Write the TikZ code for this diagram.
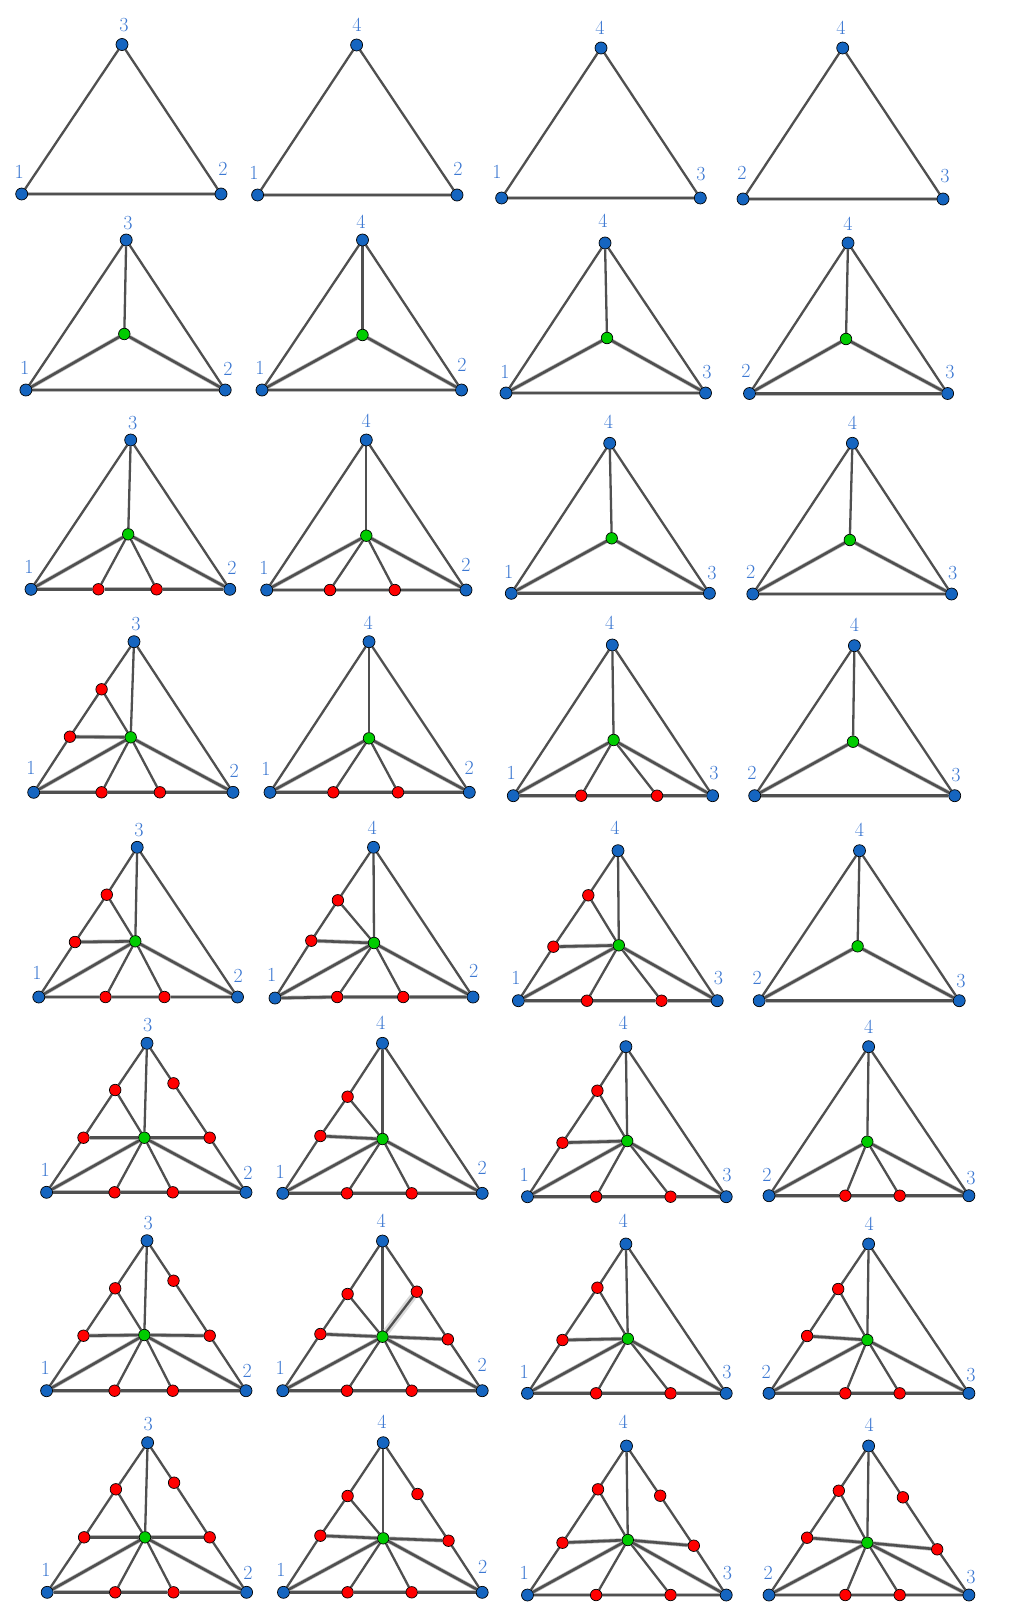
\documentclass[tikz,border=0pt]{standalone}
\usetikzlibrary{backgrounds}
\definecolor{vblue}{RGB}{21,101,192}
\definecolor{vred}{RGB}{255,0,0}
\definecolor{vgreen}{RGB}{0,204,0}
\definecolor{lblue}{RGB}{60,120,210}
\definecolor{egray}{RGB}{80,80,80}
\tikzset{
  vb/.style={circle, draw=black, line width=0.7pt, fill=vblue, minimum size=12pt, inner sep=0pt},
  vr/.style={circle, draw=black, line width=0.7pt, fill=vred, minimum size=11.5pt, inner sep=0pt},
  vg/.style={circle, draw=black, line width=0.7pt, fill=vgreen, minimum size=11.5pt, inner sep=0pt},
  lbl/.style={text=lblue, font=\fontsize{20}{20}\selectfont, inner sep=0pt},
  e/.style={draw=egray, line width=2.3pt},
  ee/.style={draw=egray, line width=2.6pt, preaction={draw=black!28, line width=4pt}},
  glow/.style={draw=egray, line width=2.3pt, preaction={draw=black!15, line width=7pt}}
}
\newcommand\mkB[3]{\node[vb] (#1) at (#2,#3) {};}
\newcommand\mkR[3]{\node[vr] (#1) at (#2,#3) {};}
\newcommand\mkG[3]{\node[vg] (#1) at (#2,#3) {};}
\newcommand\mkL[4]{\node[lbl] (#1) at (#2,#3) {#4};}
% edge sets, drawn between named nodes
\newcommand\edgesOne[1]{\draw[e] (#1T) -- (#1A); \draw[e] (#1T) -- (#1B); \draw[ee] (#1A) -- (#1B);}
\newcommand\edgesTwo[1]{\draw[e] (#1T) -- (#1A); \draw[e] (#1T) -- (#1B); \draw[e] (#1T) -- (#1G);
  \draw[ee] (#1A) -- (#1B); \draw[ee] (#1G) -- (#1A); \draw[ee] (#1G) -- (#1B);}
\newcommand\edgesThree[1]{\draw[e] (#1T) -- (#1A); \draw[e] (#1T) -- (#1B); \draw[e] (#1T) -- (#1G);
  \draw[e] (#1G) -- (#1b1); \draw[e] (#1G) -- (#1b2);
  \draw[ee] (#1A) -- (#1b1) -- (#1b2) -- (#1B); \draw[ee] (#1G) -- (#1A); \draw[ee] (#1G) -- (#1B);}
\newcommand\edgesFour[1]{\draw[e] (#1A) -- (#1l1) -- (#1l2) -- (#1T); \draw[e] (#1T) -- (#1B); \draw[e] (#1T) -- (#1G);
  \draw[e] (#1G) -- (#1l2); \draw[ee] (#1G) -- (#1l1);
  \draw[e] (#1G) -- (#1b1); \draw[e] (#1G) -- (#1b2);
  \draw[ee] (#1A) -- (#1b1) -- (#1b2) -- (#1B); \draw[ee] (#1G) -- (#1A); \draw[ee] (#1G) -- (#1B);}
\newcommand\edgesFive[1]{\draw[e] (#1A) -- (#1l1) -- (#1l2) -- (#1T); \draw[e] (#1B) -- (#1r1) -- (#1r2) -- (#1T);
  \draw[e] (#1T) -- (#1G);
  \draw[e] (#1G) -- (#1l2); \draw[ee] (#1G) -- (#1l1);
  \draw[ee] (#1G) -- (#1r1);
  \draw[e] (#1G) -- (#1b1); \draw[e] (#1G) -- (#1b2);
  \draw[ee] (#1A) -- (#1b1) -- (#1b2) -- (#1B); \draw[ee] (#1G) -- (#1A); \draw[ee] (#1G) -- (#1B);}
\begin{document}
\begin{tikzpicture}[x=1pt,y=-1pt]
\useasboundingbox (0,0) rectangle (1015,1611);
% ---------- Row 1 ----------
\mkB{p11T}{122}{44.5}\mkB{p11A}{21.7}{194}\mkB{p11B}{221}{194}
\mkL{p11t}{124}{25}{3}\mkL{p11a}{19.3}{171.5}{1}\mkL{p11b}{223}{169}{2}
\mkB{p12T}{356.6}{45}\mkB{p12A}{257.6}{195}\mkB{p12B}{457}{195}
\mkL{p12t}{357}{25}{4}\mkL{p12a}{254}{173}{1}\mkL{p12b}{458}{169}{2}
\mkB{p13T}{601}{48}\mkB{p13A}{501.6}{198}\mkB{p13B}{700.3}{198}
\mkL{p13t}{600}{28}{4}\mkL{p13a}{497}{172}{1}\mkL{p13b}{701}{174}{3}
\mkB{p14T}{842.7}{48}\mkB{p14A}{743}{199}\mkB{p14B}{943}{199}
\mkL{p14t}{841}{28}{4}\mkL{p14a}{742}{173}{2}\mkL{p14b}{945}{176}{3}
% ---------- Row 2 ----------
\mkB{p21T}{126.2}{240}\mkG{p21G}{124.3}{334}\mkB{p21A}{25.9}{390}\mkB{p21B}{225.2}{390}
\mkL{p21t}{128}{223}{3}\mkL{p21a}{24.6}{368}{1}\mkL{p21b}{228}{369}{2}
\mkB{p22T}{362.5}{240}\mkG{p22G}{362.5}{335}\mkB{p22A}{262}{390}\mkB{p22B}{461.5}{390}
\mkL{p22t}{361}{222}{4}\mkL{p22a}{260}{368}{1}\mkL{p22b}{462}{365}{2}
\mkB{p23T}{605}{243}\mkG{p23G}{607}{338}\mkB{p23A}{506}{393}\mkB{p23B}{705.5}{393}
\mkL{p23t}{603}{221}{4}\mkL{p23a}{505}{372}{1}\mkL{p23b}{707}{372}{3}
\mkB{p24T}{848}{243}\mkG{p24G}{846}{339}\mkB{p24A}{749.5}{393.5}\mkB{p24B}{947.6}{393.5}
\mkL{p24t}{848}{224}{4}\mkL{p24a}{746}{371}{2}\mkL{p24b}{950}{372}{3}
% ---------- Row 3 ----------
\mkB{p31T}{130.7}{440}\mkG{p31G}{128.2}{534.3}\mkB{p31A}{31}{589.3}\mkB{p31B}{229.8}{589.3}
\mkR{p31b1}{98.4}{589.3}\mkR{p31b2}{156.6}{589.3}
\mkL{p31t}{132.7}{423}{3}\mkL{p31a}{29}{567}{1}\mkL{p31b}{232}{568}{2}
\mkB{p32T}{366.3}{440}\mkG{p32G}{366.3}{535.7}\mkB{p32A}{266.7}{590}\mkB{p32B}{466}{590}
\mkR{p32b1}{330}{590}\mkR{p32b2}{394.8}{590}
\mkL{p32t}{366.3}{421}{4}\mkL{p32a}{264}{568}{1}\mkL{p32b}{466}{565}{2}
\mkB{p33T}{609.7}{443.3}\mkG{p33G}{611.7}{538.3}\mkB{p33A}{511.3}{593.3}\mkB{p33B}{709.4}{593.3}
\mkL{p33t}{608.4}{422}{4}\mkL{p33a}{508.7}{572}{1}\mkL{p33b}{712}{573}{3}
\mkB{p34T}{852.4}{443.3}\mkG{p34G}{849.8}{540}\mkB{p34A}{752.8}{594}\mkB{p34B}{951.5}{594}
\mkL{p34t}{852.4}{423}{4}\mkL{p34a}{750.8}{572}{2}\mkL{p34b}{952.7}{573}{3}
% ---------- Row 4 ----------
\mkB{p41T}{134}{641.7}\mkG{p41G}{130.7}{737.3}\mkB{p41A}{33.7}{792.3}\mkB{p41B}{233}{792.3}
\mkR{p41b1}{101.6}{792.3}\mkR{p41b2}{159.9}{792.3}\mkR{p41l1}{69.9}{736.7}\mkR{p41l2}{101.6}{689.3}
\mkL{p41t}{136}{624}{3}\mkL{p41a}{31}{768}{1}\mkL{p41b}{234.3}{771}{2}
\mkB{p42T}{369}{641.7}\mkG{p42G}{369}{738.3}\mkB{p42A}{270}{792.3}\mkB{p42B}{469.3}{792.3}
\mkR{p42b1}{333.3}{792.3}\mkR{p42b2}{398}{792.3}
\mkL{p42t}{368.3}{623}{4}\mkL{p42a}{266}{769}{1}\mkL{p42b}{469.3}{768}{2}
\mkB{p43T}{612.3}{645}\mkG{p43G}{613.6}{740}\mkB{p43A}{513.3}{795.7}\mkB{p43B}{712.6}{795.7}
\mkR{p43b1}{581.2}{795.7}\mkR{p43b2}{657}{795.7}
\mkL{p43t}{609.7}{623}{4}\mkL{p43a}{511.3}{773}{1}\mkL{p43b}{714}{773}{3}
\mkB{p44T}{854.4}{645.7}\mkG{p44G}{853}{741.7}\mkB{p44A}{754.7}{795.7}\mkB{p44B}{954.7}{795.7}
\mkL{p44t}{854.4}{625}{4}\mkL{p44a}{752}{773}{2}\mkL{p44b}{956}{775}{3}
% ---------- Row 5 ----------
\mkB{p51T}{137.2}{847.3}\mkG{p51G}{135.3}{941.3}\mkB{p51A}{38.8}{997}\mkB{p51B}{237.5}{997}
\mkR{p51b1}{105.5}{997}\mkR{p51b2}{164.4}{997}\mkR{p51l1}{75}{942}\mkR{p51l2}{106.8}{894.7}
\mkL{p51t}{139}{830}{3}\mkL{p51a}{37}{973}{1}\mkL{p51b}{238.2}{976}{2}
\mkB{p52T}{373.5}{847.3}\mkG{p52G}{374}{943}\mkB{p52A}{275}{998}\mkB{p52B}{473}{997}
\mkR{p52b1}{337.2}{997}\mkR{p52b2}{403.2}{997}\mkR{p52l1}{311.3}{940.7}\mkR{p52l2}{337.9}{900.3}
\mkL{p52t}{372.2}{828}{4}\mkL{p52a}{271.8}{975}{1}\mkL{p52b}{473.8}{971}{2}
\mkB{p53T}{618}{850.7}\mkG{p53G}{618.8}{945.3}\mkB{p53A}{518.4}{1000.7}\mkB{p53B}{717.2}{1000.7}
\mkR{p53b1}{587}{1000.7}\mkR{p53b2}{661.5}{1000.7}\mkR{p53l1}{553.4}{946.7}\mkR{p53l2}{588.3}{895.3}
\mkL{p53t}{614.9}{828}{4}\mkL{p53a}{515.9}{978}{1}\mkL{p53b}{718.4}{978}{3}
\mkB{p54T}{859.5}{850.7}\mkG{p54G}{857.6}{946.3}\mkB{p54A}{759.2}{1000.7}\mkB{p54B}{959.2}{1000.7}
\mkL{p54t}{859.5}{830}{4}\mkL{p54a}{757.3}{978}{2}\mkL{p54b}{961}{981}{3}
% ---------- Row 6 ----------
\mkB{p61T}{147}{1043.3}\mkG{p61G}{144.3}{1137.7}\mkB{p61A}{46.6}{1192.3}\mkB{p61B}{246}{1192.3}
\mkR{p61b1}{114.6}{1192.3}\mkR{p61b2}{172.8}{1192.3}\mkR{p61l1}{83.5}{1137.7}\mkR{p61l2}{115.2}{1090}
\mkR{p61r1}{209.7}{1137.7}\mkR{p61r2}{173.5}{1083.3}
\mkL{p61t}{147.6}{1025}{3}\mkL{p61a}{45.3}{1170}{1}\mkL{p61b}{247.9}{1173}{2}
\mkB{p62T}{382.5}{1043.3}\mkG{p62G}{382.5}{1139}\mkB{p62A}{282.8}{1193.3}\mkB{p62B}{482.2}{1193.3}
\mkR{p62b1}{347}{1193.3}\mkR{p62b2}{411.7}{1193.3}\mkR{p62l1}{320.4}{1136}\mkR{p62l2}{347.6}{1096.7}
\mkL{p62t}{380.6}{1023}{4}\mkL{p62a}{280.3}{1172}{1}\mkL{p62b}{482.2}{1168}{2}
\mkB{p63T}{625.9}{1046.7}\mkG{p63G}{627.2}{1141}\mkB{p63A}{527.5}{1196.7}\mkB{p63B}{726.2}{1196.7}
\mkR{p63b1}{596.1}{1196.7}\mkR{p63b2}{670.6}{1196.7}\mkR{p63l1}{562.5}{1142.7}\mkR{p63l2}{597.4}{1090.7}
\mkL{p63t}{623.3}{1023}{4}\mkL{p63a}{524.3}{1175}{1}\mkL{p63b}{726.9}{1175}{3}
\mkB{p64T}{868.6}{1046.7}\mkG{p64G}{867.3}{1141.7}\mkB{p64A}{769}{1195.7}\mkB{p64B}{968.9}{1195.7}
\mkR{p64b1}{845.3}{1195.7}\mkR{p64b2}{899.7}{1195.7}
\mkL{p64t}{868.6}{1027}{4}\mkL{p64a}{767}{1175}{2}\mkL{p64b}{970.9}{1178}{3}
% ---------- Row 7 ----------
\mkB{p71T}{147}{1240.7}\mkG{p71G}{144.3}{1335}\mkB{p71A}{46.6}{1390.7}\mkB{p71B}{246}{1390.7}
\mkR{p71b1}{114.6}{1390.7}\mkR{p71b2}{172.8}{1390.7}\mkR{p71l1}{83.5}{1335.7}\mkR{p71l2}{115.2}{1288.3}
\mkR{p71r1}{209.7}{1335.7}\mkR{p71r2}{173.5}{1280.7}
\mkL{p71t}{148.2}{1223}{3}\mkL{p71a}{45.3}{1368}{1}\mkL{p71b}{247.2}{1371}{2}
\mkB{p72T}{382.5}{1241}\mkG{p72G}{382.5}{1336.7}\mkB{p72A}{282.8}{1390.7}\mkB{p72B}{482.2}{1390.7}
\mkR{p72b1}{347}{1390.7}\mkR{p72b2}{411.7}{1390.7}\mkR{p72l1}{320.4}{1334}\mkR{p72l2}{347.6}{1294}
\mkR{p72r1}{447.9}{1339.3}\mkR{p72r2}{416.8}{1291.7}
\mkL{p72t}{381.2}{1221}{4}\mkL{p72a}{280.3}{1368}{1}\mkL{p72b}{482.2}{1365}{2}
\mkB{p73T}{625.9}{1244}\mkG{p73G}{627.8}{1338.7}\mkB{p73A}{527.5}{1393.3}\mkB{p73B}{726.2}{1393.3}
\mkR{p73b1}{596.1}{1393.3}\mkR{p73b2}{670.6}{1393.3}\mkR{p73l1}{562.5}{1340}\mkR{p73l2}{597.4}{1287.7}
\mkL{p73t}{623.3}{1221}{4}\mkL{p73a}{524.3}{1372}{1}\mkL{p73b}{726.9}{1372}{3}
\mkB{p74T}{868.6}{1244}\mkG{p74G}{867.3}{1340}\mkB{p74A}{769}{1393.3}\mkB{p74B}{968.9}{1393.3}
\mkR{p74b1}{845.3}{1393.3}\mkR{p74b2}{899.7}{1393.3}\mkR{p74l1}{807.1}{1336}\mkR{p74l2}{838.2}{1289}
\mkL{p74t}{869.3}{1224}{4}\mkL{p74a}{766.3}{1372}{2}\mkL{p74b}{970.9}{1375}{3}
% ---------- Row 8 ----------
\mkB{p81T}{147.6}{1442.7}\mkG{p81G}{145}{1537.3}\mkB{p81A}{47.2}{1592.3}\mkB{p81B}{246.6}{1592.3}
\mkR{p81b1}{115.2}{1592.3}\mkR{p81b2}{173.5}{1592.3}\mkR{p81l1}{84.1}{1537.3}\mkR{p81l2}{115.9}{1489.3}
\mkR{p81r1}{209.7}{1537.3}\mkR{p81r2}{174.1}{1482.7}
\mkL{p81t}{148.2}{1424}{3}\mkL{p81a}{46}{1570}{1}\mkL{p81b}{247.9}{1573}{2}
\mkB{p82T}{383.2}{1442.7}\mkG{p82G}{383.2}{1538.3}\mkB{p82A}{283.5}{1592.3}\mkB{p82B}{482.2}{1592.3}
\mkR{p82b1}{347.6}{1592.3}\mkR{p82b2}{411.7}{1592.3}\mkR{p82l1}{320.4}{1535.7}\mkR{p82l2}{347.6}{1496}
\mkR{p82r1}{448.5}{1540.7}\mkR{p82r2}{417.5}{1494}
\mkL{p82t}{381.9}{1422}{4}\mkL{p82a}{280.9}{1570}{1}\mkL{p82b}{482.8}{1567}{2}
\mkB{p83T}{626.5}{1446}\mkG{p83G}{627.8}{1540}\mkB{p83A}{527.5}{1595}\mkB{p83B}{726.2}{1595}
\mkR{p83b1}{596.1}{1595}\mkR{p83b2}{670.6}{1595}\mkR{p83l1}{562.5}{1542.7}\mkR{p83l2}{598}{1489.3}
\mkR{p83r1}{693.8}{1545.7}\mkR{p83r2}{660.2}{1495.7}
\mkL{p83t}{623.3}{1422}{4}\mkL{p83a}{524.3}{1573}{1}\mkL{p83b}{727.5}{1573}{3}
\mkB{p84T}{868.6}{1446}\mkG{p84G}{867.3}{1542.7}\mkB{p84A}{769}{1595}\mkB{p84B}{968.9}{1595}
\mkR{p84b1}{845.3}{1595}\mkR{p84b2}{899.7}{1595}\mkR{p84l1}{807.1}{1537.7}\mkR{p84l2}{838.8}{1490.7}
\mkR{p84r1}{937.2}{1549.3}\mkR{p84r2}{902.9}{1497.3}
\mkL{p84t}{869.3}{1425}{4}\mkL{p84a}{768.3}{1573}{2}\mkL{p84b}{970.9}{1577}{3}
% ---------- Edges ----------
\begin{scope}[on background layer]
\fill[white] (0,0) rectangle (1015,1611);
\edgesOne{p11}\edgesOne{p12}\edgesOne{p13}\edgesOne{p14}
\edgesTwo{p21}\edgesTwo{p22}\edgesTwo{p23}\edgesTwo{p24}
\edgesThree{p31}\edgesThree{p32}\edgesTwo{p33}\edgesTwo{p34}
\edgesFour{p41}\edgesThree{p42}\edgesThree{p43}\edgesTwo{p44}
\edgesFour{p51}\edgesFour{p52}\edgesFour{p53}\edgesTwo{p54}
\edgesFive{p61}\edgesFour{p62}\edgesFour{p63}\edgesThree{p64}
\edgesFive{p71}\edgesFive{p72}\edgesFour{p73}\edgesFour{p74}
\edgesFive{p81}\edgesFive{p82}\edgesFive{p83}\edgesFive{p84}
\draw[glow] (p72G) -- (p72r2);
\end{scope}
\end{tikzpicture}
\end{document}
